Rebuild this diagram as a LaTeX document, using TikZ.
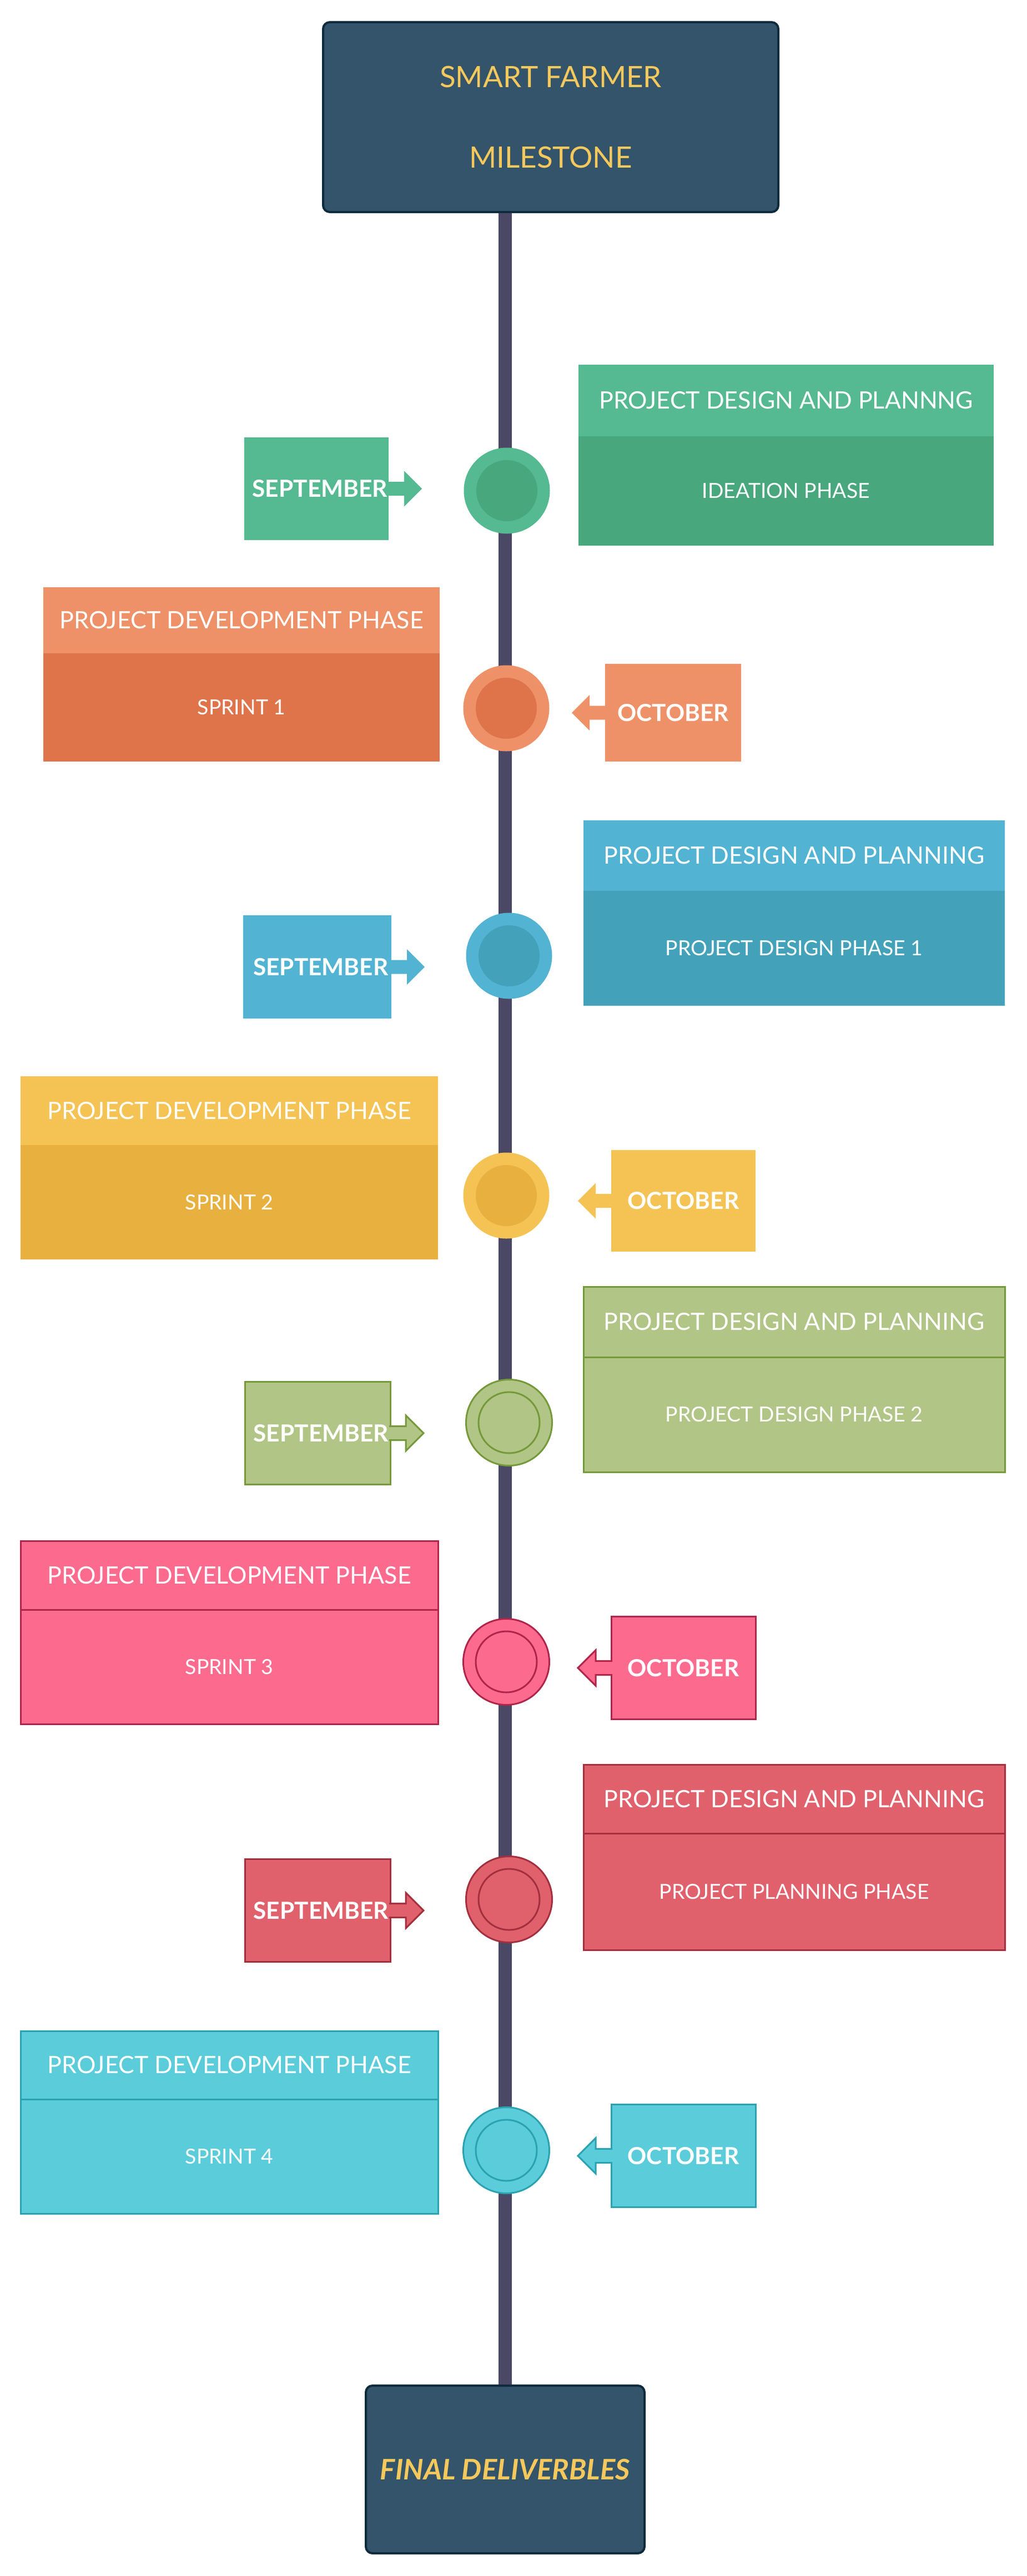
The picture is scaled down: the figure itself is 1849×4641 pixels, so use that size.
\documentclass[tikz,border=0pt]{standalone}
\usepackage{fontspec}
\setmainfont{Lato}
\usepackage{tikz}
\usetikzlibrary{positioning}

\definecolor{navy}{HTML}{33546A}
\definecolor{navyline}{HTML}{0E2B3D}
\definecolor{gold}{HTML}{F5C85C}
\definecolor{track}{HTML}{4B4866}
\definecolor{mintA}{HTML}{55B991}
\definecolor{mintB}{HTML}{48A77D}
\definecolor{peachA}{HTML}{EE9168}
\definecolor{peachB}{HTML}{DF744B}
\definecolor{skyA}{HTML}{52B3D3}
\definecolor{skyB}{HTML}{43A2BA}
\definecolor{sunA}{HTML}{F4C354}
\definecolor{sunB}{HTML}{E8B03E}
\definecolor{olive}{HTML}{B1C586}
\definecolor{oliveline}{HTML}{75993A}
\definecolor{rose}{HTML}{FC6B8E}
\definecolor{roseline}{HTML}{B0254A}
\definecolor{brick}{HTML}{E0616C}
\definecolor{brickline}{HTML}{A2303F}
\definecolor{aqua}{HTML}{5BCCDA}
\definecolor{aqualine}{HTML}{2AA2B1}

\begin{document}
\begin{tikzpicture}[
    x=0.5pt, y=-0.5pt,
    milestone/.style={rectangle, rounded corners=6pt, draw=navyline, line width=2pt, fill=navy, text=gold, align=center},
    timeline/.style={line width=12pt, draw=track},
    card/.style={rectangle, inner sep=0pt, outer sep=0pt, text=white, minimum width=379.5pt},
    cardhead/.style={card, minimum height=63.5pt, font=\fontsize{21.5}{25}\selectfont},
    cardbody/.style={card, minimum height=103.5pt, font=\fontsize{18.7}{22}\selectfont},
    month/.style={rectangle, inner sep=0pt, outer sep=0pt, text=white, minimum width=131pt, minimum height=92.5pt, font=\fontsize{21.2}{25}\selectfont\bfseries},
    sepbox/.style={month, text width=128pt, align=right},
    dot/.style={circle, inner sep=0pt, minimum size=77.5pt},
    hub/.style={circle, inner sep=0pt, minimum size=55pt},
    edge/.style={line width=1.5pt}
]
\useasboundingbox (0,0) rectangle (1849,4641);

% ---------- start / end ----------
\node (title) [milestone, minimum width=410pt, minimum height=171pt, font=\fontsize{26.5}{72.5}\selectfont] at (992,211) {SMART FARMER\\MILESTONE};
\node (final) [milestone, minimum width=251pt, minimum height=151pt, font=\fontsize{25.5}{30}\selectfont\bfseries\itshape] at (910,4449) {FINAL DELIVERBLES};

% timeline
\draw [timeline] (title.south -| final.north) -- (final.north);

% ---------- row 1 ----------
\node (dot1) [dot, fill=mintA] at (913,884) {};
\node (hub1) [hub, fill=mintB] at (dot1) {};
\node (head1) [cardhead, fill=mintA, minimum width=374pt, minimum height=64.5pt] at (1416,721.5) {PROJECT DESIGN AND PLANNNG};
\node (body1) [cardbody, fill=mintB, minimum width=374pt, minimum height=98.5pt, below=0pt of head1] {IDEATION PHASE};
\node (sep1) [sepbox, fill=mintA, minimum width=130pt] at (570,880.5) {SEPTEMBER};
\fill [mintA] ([xshift=-1pt,yshift=6.25pt]sep1.east) -- ++(30,0) -- ++(0,-19.5) -- ++(32,32) -- ++(-32,32) -- ++(0,-19.5) -- ++(-30,0);

% ---------- row 2 ----------
\node (dot2) [dot, fill=peachA] at (912,1276) {};
\node (hub2) [hub, fill=peachB] at (dot2) {};
\node (head2) [cardhead, fill=peachA, minimum width=357pt, minimum height=59.5pt] at (435,1117.5) {PROJECT DEVELOPMENT PHASE};
\node (body2) [cardbody, fill=peachB, minimum width=357pt, minimum height=97.5pt, below=0pt of head2] {SPRINT 1};
\node (oct2) [month, fill=peachA, minimum width=122.5pt, minimum height=88pt] at (1212.5,1284) {OCTOBER};
\fill [peachA] ([xshift=1pt,yshift=6.25pt]oct2.west) -- ++(-30,0) -- ++(0,-19.5) -- ++(-32,32) -- ++(32,32) -- ++(0,-19.5) -- ++(30,0);

% ---------- row 3 ----------
\node (dot3) [dot, fill=skyA] at (917,1722) {};
\node (hub3) [hub, fill=skyB] at (dot3) {};
\node (head3) [cardhead, fill=skyA] at (1430.5,1541) {PROJECT DESIGN AND PLANNING};
\node (body3) [cardbody, fill=skyB, below=0pt of head3] {PROJECT DESIGN PHASE 1};
\node (sep3) [sepbox, fill=skyA, minimum width=133.5pt, minimum height=93pt] at (571.5,1742) {SEPTEMBER};
\fill [skyA] ([xshift=-1pt,yshift=6.25pt]sep3.east) -- ++(30,0) -- ++(0,-19.5) -- ++(32,32) -- ++(-32,32) -- ++(0,-19.5) -- ++(-30,0);

% ---------- row 4 ----------
\node (dot4) [dot, fill=sunA] at (912,2154) {};
\node (hub4) [hub, fill=sunB] at (dot4) {};
\node (head4) [cardhead, fill=sunA, minimum width=376pt, minimum height=62pt] at (413,2001) {PROJECT DEVELOPMENT PHASE};
\node (body4) [cardbody, fill=sunB, minimum width=376pt, minimum height=103pt, below=0pt of head4] {SPRINT 2};
\node (oct4) [month, fill=sunA, minimum width=130pt, minimum height=91.5pt] at (1231,2163.5) {OCTOBER};
\fill [sunA] ([xshift=1pt,yshift=6.25pt]oct4.west) -- ++(-30,0) -- ++(0,-19.5) -- ++(-32,32) -- ++(32,32) -- ++(0,-19.5) -- ++(30,0);

% ---------- row 5 ----------
\node (dot5) [dot, fill=olive, draw=oliveline, edge] at (917,2563) {};
\node (hub5) [hub, draw=oliveline, edge] at (dot5) {};
\node (head5) [cardhead, fill=olive, draw=oliveline, edge] at (1430.5,2381.5) {PROJECT DESIGN AND PLANNING};
\node (body5) [cardbody, fill=olive, draw=oliveline, edge, below=0pt of head5] {PROJECT DESIGN PHASE 2};
\node (sep5) [sepbox, fill=olive, draw=oliveline, edge] at (572,2582) {SEPTEMBER};
\filldraw [fill=olive, draw=oliveline, edge] ([xshift=-1pt,yshift=6.25pt]sep5.east) -- ++(30,0) -- ++(0,-19.5) -- ++(32,32) -- ++(-32,32) -- ++(0,-19.5) -- ++(-30,0);

% ---------- row 6 ----------
\node (dot6) [dot, fill=rose, draw=roseline, edge] at (912,2994) {};
\node (hub6) [hub, draw=roseline, edge] at (dot6) {};
\node (head6) [cardhead, fill=rose, draw=roseline, edge, minimum width=376pt, minimum height=62pt] at (413,2838) {PROJECT DEVELOPMENT PHASE};
\node (body6) [cardbody, fill=rose, draw=roseline, edge, minimum width=376pt, minimum height=103pt, below=0pt of head6] {SPRINT 3};
\node (oct6) [month, fill=rose, draw=roseline, edge, minimum width=130pt] at (1231,3005) {OCTOBER};
\filldraw [fill=rose, draw=roseline, edge] ([xshift=1pt,yshift=6.25pt]oct6.west) -- ++(-30,0) -- ++(0,-19.5) -- ++(-32,32) -- ++(32,32) -- ++(0,-19.5) -- ++(30,0);

% ---------- row 7 ----------
\node (dot7) [dot, fill=brick, draw=brickline, edge] at (917,3422) {};
\node (hub7) [hub, draw=brickline, edge] at (dot7) {};
\node (head7) [cardhead, fill=brick, draw=brickline, edge, minimum height=62pt] at (1430.5,3241) {PROJECT DESIGN AND PLANNING};
\node (body7) [cardbody, fill=brick, draw=brickline, edge, minimum height=105pt, below=0pt of head7] {PROJECT PLANNING PHASE};
\node (sep7) [sepbox, fill=brick, draw=brickline, edge] at (572,3442) {SEPTEMBER};
\filldraw [fill=brick, draw=brickline, edge] ([xshift=-1pt,yshift=6.25pt]sep7.east) -- ++(30,0) -- ++(0,-19.5) -- ++(32,32) -- ++(-32,32) -- ++(0,-19.5) -- ++(-30,0);

% ---------- row 8 ----------
\node (dot8) [dot, fill=aqua, draw=aqualine, edge] at (912,3874) {};
\node (hub8) [hub, draw=aqualine, edge] at (dot8) {};
\node (head8) [cardhead, fill=aqua, draw=aqualine, edge, minimum width=376pt, minimum height=61.5pt] at (413,3720.5) {PROJECT DEVELOPMENT PHASE};
\node (body8) [cardbody, fill=aqua, draw=aqualine, edge, minimum width=376pt, minimum height=103pt, below=0pt of head8] {SPRINT 4};
\node (oct8) [month, fill=aqua, draw=aqualine, edge, minimum width=130pt] at (1231,3884) {OCTOBER};
\filldraw [fill=aqua, draw=aqualine, edge] ([xshift=1pt,yshift=6.25pt]oct8.west) -- ++(-30,0) -- ++(0,-19.5) -- ++(-32,32) -- ++(32,32) -- ++(0,-19.5) -- ++(30,0);

\end{tikzpicture}
\end{document}
